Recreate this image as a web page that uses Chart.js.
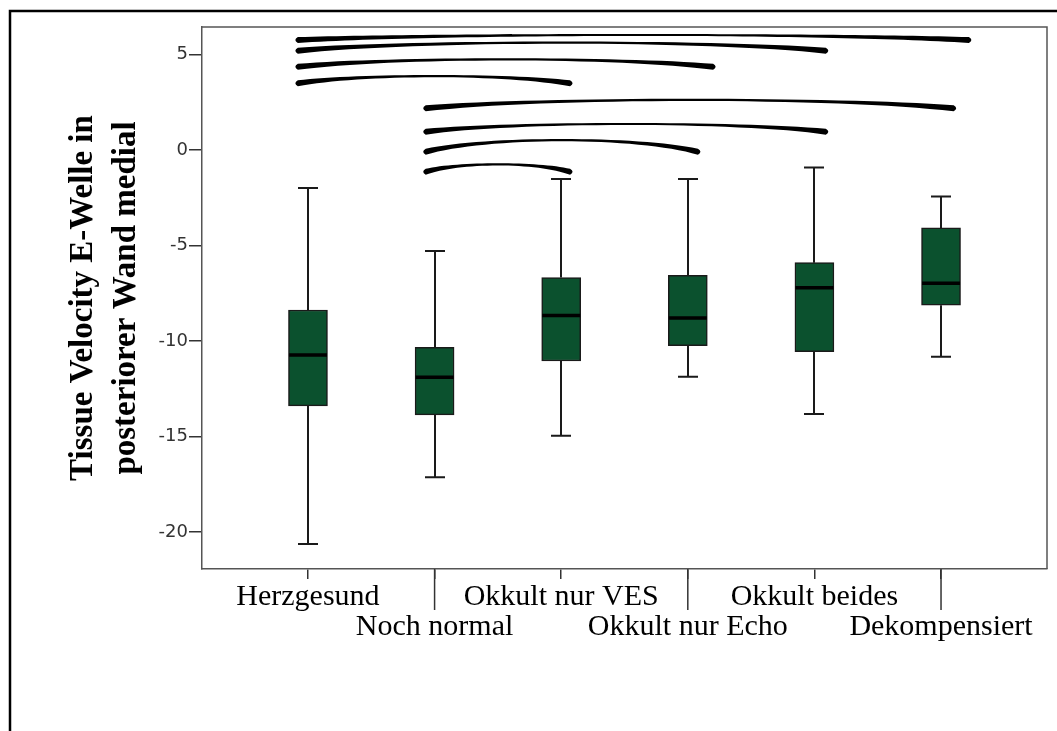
<!DOCTYPE html>
<html>
<head>
<meta charset="utf-8">
<script src="https://cdn.jsdelivr.net/npm/chart.js@4.4.1/dist/chart.umd.min.js"></script>
<style>
  html, body { margin: 0; padding: 0; background: #fff; }
  canvas { display: block; }
</style>
</head>
<body>
<canvas id="chart" width="1057" height="731"></canvas>
<script>
// Groups along the x axis
const categories = ['Herzgesund', 'Noch normal', 'Okkult nur VES', 'Okkult nur Echo', 'Okkult beides', 'Dekompensiert'];

// Box plot statistics per group
const whiskerLow  = [-20.63, -17.14, -14.96, -11.87, -13.82, -10.82];
const quartile1   = [-13.40, -13.87, -11.05, -10.24, -10.56,  -8.13];
const medians     = [-10.73, -11.90,  -8.67,  -8.80,  -7.21,  -6.98];
const quartile3   = [ -8.38, -10.33,  -6.68,  -6.56,  -5.90,  -4.08];
const whiskerHigh = [ -1.99,  -5.29,  -1.52,  -1.52,  -0.92,  -2.44];

// Significance arcs: x span in group units, y of the ends and of the crest
const arcStart = [-0.08, -0.08, -0.08, -0.08, 0.93, 0.93, 0.93, 0.93];
const arcEnd   = [ 5.22,  4.09,  3.20,  2.07, 5.10, 4.09, 3.08, 2.07];
const arcEndY  = [ 5.76,  5.20,  4.36,  3.49, 2.18, 0.96, -0.09, -1.14];
const arcPeakY = [ 6.02,  5.62,  4.75,  3.87, 2.62, 1.36,  0.52, -0.75];

// Value axis ticks
const yTicks = [-20, -15, -10, -5, 0, 5];

const boxParts = {
  id: 'boxParts',
  beforeDraw(chart) {
    const ctx = chart.ctx;
    ctx.save();
    ctx.fillStyle = '#fff';
    ctx.fillRect(0, 0, chart.width, chart.height);
    ctx.restore();
  },
  beforeDatasetsDraw(chart) {
    const ctx = chart.ctx;
    const xs = chart.scales.x, ys = chart.scales.y;
    ctx.save();
    ctx.strokeStyle = '#1a1a1a';
    ctx.lineWidth = 2;
    categories.forEach((c, i) => {
      const x = Math.round(xs.getPixelForValue(i));
      const yHi = ys.getPixelForValue(whiskerHigh[i]);
      const yQ3 = ys.getPixelForValue(quartile3[i]);
      const yQ1 = ys.getPixelForValue(quartile1[i]);
      const yLo = ys.getPixelForValue(whiskerLow[i]);
      ctx.beginPath();
      ctx.moveTo(x, yHi); ctx.lineTo(x, yQ3);
      ctx.moveTo(x, yQ1); ctx.lineTo(x, yLo);
      ctx.moveTo(x - 10, yHi); ctx.lineTo(x + 10, yHi);
      ctx.moveTo(x - 10, yLo); ctx.lineTo(x + 10, yLo);
      ctx.stroke();
    });
    ctx.restore();
  },
  afterDatasetsDraw(chart) {
    const ctx = chart.ctx;
    const xs = chart.scales.x, ys = chart.scales.y;
    ctx.save();
    // medians
    ctx.strokeStyle = '#000';
    ctx.lineWidth = 3.5;
    categories.forEach((c, i) => {
      const x = xs.getPixelForValue(i);
      const y = ys.getPixelForValue(medians[i]);
      ctx.beginPath();
      ctx.moveTo(x - 19, y); ctx.lineTo(x + 19, y);
      ctx.stroke();
    });
    // significance arcs, tapered with heavy ends
    ctx.fillStyle = '#000';
    arcStart.forEach((s, k) => {
      const x0 = xs.getPixelForValue(s);
      const x1 = xs.getPixelForValue(arcEnd[k]);
      const yE = ys.getPixelForValue(arcEndY[k]);
      const yP = ys.getPixelForValue(arcPeakY[k]);
      const d = (x1 - x0) * 0.22;
      const endHalf = 3.0, midHalf = 1.1;
      const cTop = ((yP - midHalf) - 0.25 * (yE - endHalf)) / 0.75;
      const cBot = ((yP + midHalf) - 0.25 * (yE + endHalf)) / 0.75;
      ctx.beginPath();
      ctx.moveTo(x0, yE - endHalf);
      ctx.bezierCurveTo(x0 + d, cTop, x1 - d, cTop, x1, yE - endHalf);
      ctx.quadraticCurveTo(x1 + 5, yE, x1, yE + endHalf);
      ctx.bezierCurveTo(x1 - d, cBot, x0 + d, cBot, x0, yE + endHalf);
      ctx.quadraticCurveTo(x0 - 5, yE, x0, yE - endHalf);
      ctx.closePath();
      ctx.fill();
    });
    ctx.restore();
  },
  afterDraw(chart) {
    const ctx = chart.ctx;
    const a = chart.chartArea;
    const xs = chart.scales.x;
    ctx.save();
    // remaining sides of the plot frame
    ctx.strokeStyle = '#555';
    ctx.lineWidth = 1.5;
    ctx.beginPath();
    ctx.moveTo(a.left, a.top); ctx.lineTo(a.right, a.top); ctx.lineTo(a.right, a.bottom);
    ctx.stroke();
    // longer ticks under the second label row
    ctx.strokeStyle = '#333';
    categories.forEach((c, i) => {
      if (i % 2 === 1) {
        const x = xs.getPixelForValue(i);
        ctx.beginPath();
        ctx.moveTo(x, a.bottom); ctx.lineTo(x, a.bottom + 41);
        ctx.stroke();
      }
    });
    // outer figure frame
    ctx.strokeStyle = '#000';
    ctx.lineWidth = 2.5;
    ctx.beginPath();
    ctx.moveTo(chart.width, 11); ctx.lineTo(10, 11); ctx.lineTo(10, chart.height);
    ctx.stroke();
    ctx.restore();
  }
};

new Chart(document.getElementById('chart'), {
  type: 'bar',
  data: {
    datasets: [{
      data: categories.map((c, i) => ({ x: i, y: [quartile1[i], quartile3[i]] })),
      backgroundColor: '#0b512e',
      borderColor: '#1a1a1a',
      borderWidth: 1.5,
      borderSkipped: false,
      barThickness: 39
    }]
  },
  options: {
    responsive: false,
    animation: false,
    devicePixelRatio: 1,
    layout: { padding: { left: 0, right: 10, top: 27, bottom: 0 } },
    plugins: { legend: { display: false }, tooltip: { enabled: false } },
    scales: {
      x: {
        type: 'linear',
        offset: false,
        min: -0.837,
        max: 5.837,
        afterBuildTicks: s => { s.ticks = categories.map((c, i) => ({ value: i })); },
        afterFit: s => { s.height = 162; },
        grid: { offset: false, drawOnChartArea: false, drawTicks: true, tickLength: 10, color: '#333', lineWidth: 1.5 },
        border: { display: true, color: '#555', width: 1.5 },
        ticks: {
          autoSkip: false,
          maxRotation: 0,
          minRotation: 0,
          padding: 4,
          color: '#000',
          font: { family: '"Liberation Serif", "Times New Roman", serif', size: 30, lineHeight: 0.97 },
          callback: v => (v % 2 === 0 ? [categories[v]] : ['', categories[v]])
        }
      },
      y: {
        type: 'linear',
        min: -21.94,
        max: 6.44,
        afterBuildTicks: s => { s.ticks = yTicks.map(v => ({ value: v })); },
        afterFit: s => { s.width = 202; },
        grid: { drawOnChartArea: false, drawTicks: true, tickLength: 13, color: '#333', lineWidth: 1.5 },
        border: { display: true, color: '#555', width: 1.5 },
        ticks: {
          padding: 1,
          color: '#333',
          font: { family: '"DejaVu Sans", Verdana, sans-serif', size: 18 },
          callback: v => String(v)
        },
        title: {
          display: true,
          text: ['Tissue Velocity E-Welle in', 'posteriorer Wand medial'],
          color: '#000',
          font: { family: '"Liberation Serif", "Times New Roman", serif', size: 33, weight: 'bold', lineHeight: 1.3 },
          padding: { top: 62, bottom: 0 }
        }
      }
    }
  },
  plugins: [boxParts]
});
</script>
</body>
</html>
